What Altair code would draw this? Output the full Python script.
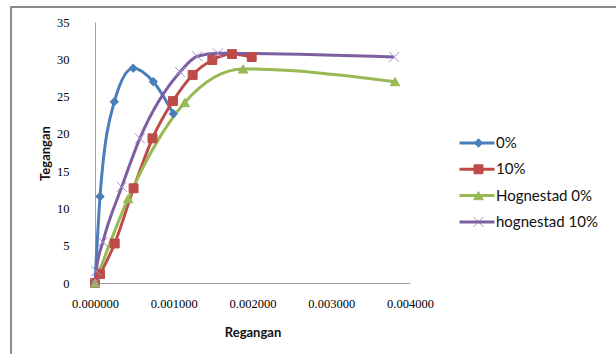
import altair as alt
import pandas as pd

series_names = ["0%", "10%", "Hognestad 0%", "hognestad 10%"]
line_colors = ["#4a7ebb", "#be4b48", "#98b954", "#7d5fa0"]
marker_strokes = ["#4a7ebb", "#be4b48", "#98b954", "#a08fca"]
marker_shapes = ["diamond", "square", "triangle-up", "M-1,-1L1,1M-1,1L1,-1"]
marker_sizes = [70, 100, 110, 150]

strain_0 = [0.0, 0.000064, 0.000245, 0.000485, 0.000740, 0.000995]
stress_0 = [0.0, 11.6, 24.3, 28.8, 27.0, 22.7]

strain_10 = [0.0, 0.000064, 0.00025, 0.00049, 0.00073, 0.00099, 0.00124, 0.00149, 0.00174, 0.00199]
stress_10 = [0.0, 1.2, 5.3, 12.7, 19.4, 24.4, 27.9, 29.9, 30.7, 30.3]

strain_h0 = [0.0, 0.00042, 0.00114, 0.00188, 0.00381]
stress_h0 = [0.0, 11.3, 24.2, 28.7, 27.0]

strain_h10 = [0.0, 0.000015, 0.0001, 0.00034, 0.00057, 0.00108, 0.0013, 0.00156, 0.0038]
stress_h10 = [0.0, 1.6, 5.5, 12.9, 19.4, 28.3, 30.4, 30.8, 30.3]

x_ticks = [0.0, 0.001, 0.002, 0.003, 0.004]
y_ticks = [0, 5, 10, 15, 20, 25, 30, 35]

rows = []
for name, xs, ys in zip(series_names,
                        [strain_0, strain_10, strain_h0, strain_h10],
                        [stress_0, stress_10, stress_h0, stress_h10]):
    for xv, yv in zip(xs, ys):
        rows.append({"series": name, "series2": name, "strain": xv, "stress": yv})
df = pd.DataFrame(rows)

x_enc = alt.X("strain:Q", scale=alt.Scale(domain=[0, 0.004], nice=False),
              axis=alt.Axis(values=x_ticks, format=".6f", title="Regangan",
                            ticks=False, grid=False, domainColor="#a0a0a0",
                            labelFlush=False, labelOverlap=False,
                            labelFont="Liberation Serif", labelFontSize=12.5,
                            labelColor="#000", labelPadding=14,
                            titleFont="Lato", titleFontSize=13, titleFontWeight="bold",
                            titleColor="#111", titleBaseline="middle", titleY=49))
y_enc = alt.Y("stress:Q", scale=alt.Scale(domain=[0, 35], nice=False),
              axis=alt.Axis(values=y_ticks, tickCount=8, format="d", title="Tegangan",
                            ticks=False, grid=False, domainColor="#a0a0a0",
                            labelFlush=False, labelOverlap=False,
                            labelFont="Liberation Serif", labelFontSize=12.5,
                            labelColor="#000", labelPadding=26,
                            titleFont="Lato", titleFontSize=13, titleFontWeight="bold",
                            titleColor="#111", titleBaseline="middle",
                            titleX=-50, titleY=131, titleAngle=270))

line_legend = alt.Legend(orient="none", legendX=363, legendY=111, title=None,
                         symbolType="stroke", symbolSize=1225, symbolStrokeWidth=3,
                         labelFont="Lato", labelFontSize=15, labelColor="#111",
                         labelOffset=0, clipHeight=20, rowPadding=6.3, padding=0)

lines = alt.Chart(df).mark_line(interpolate="monotone", strokeWidth=3).encode(
    x=x_enc, y=y_enc,
    color=alt.Color("series:N", sort=series_names,
                    scale=alt.Scale(domain=series_names, range=line_colors),
                    legend=line_legend),
)

pt_legend = alt.Legend(orient="none", legendX=376, legendY=111, title=None,
                       labelFont="Lato", labelFontSize=15, labelExpr="''",
                       labelOffset=0, clipHeight=20, rowPadding=6.3, padding=0,
                       symbolStrokeWidth=1, symbolOpacity=1)

points = alt.Chart(df).mark_point(filled=True, opacity=1, strokeWidth=1).encode(
    x=x_enc, y=y_enc,
    fill=alt.Fill("series2:N", sort=series_names,
                  scale=alt.Scale(domain=series_names, range=line_colors), legend=pt_legend),
    stroke=alt.Stroke("series2:N", sort=series_names,
                      scale=alt.Scale(domain=series_names, range=marker_strokes), legend=pt_legend),
    shape=alt.Shape("series2:N", sort=series_names,
                    scale=alt.Scale(domain=series_names, range=marker_shapes), legend=pt_legend),
    size=alt.Size("series2:N", sort=series_names,
                  scale=alt.Scale(domain=series_names, range=marker_sizes), legend=pt_legend),
)

frame_df = pd.DataFrame({"k": [0]})
frame = alt.Chart(frame_df).mark_rect(fill="transparent", stroke="#8c8c8c", strokeWidth=2).encode(
    x=alt.value(-84), x2=alt.value(530), y=alt.value(-15), y2=alt.value(340)
)

chart = alt.layer(frame, lines, points).resolve_scale(
    color="independent"
).properties(
    width=315, height=261,
    autosize=alt.AutoSizeParams(type="none"),
    padding={"left": 95, "top": 22, "right": 206, "bottom": 71},
    background="white",
).configure_view(stroke=None)

chart.save("out.html", embed_options={"renderer": "svg", "actions": False})
